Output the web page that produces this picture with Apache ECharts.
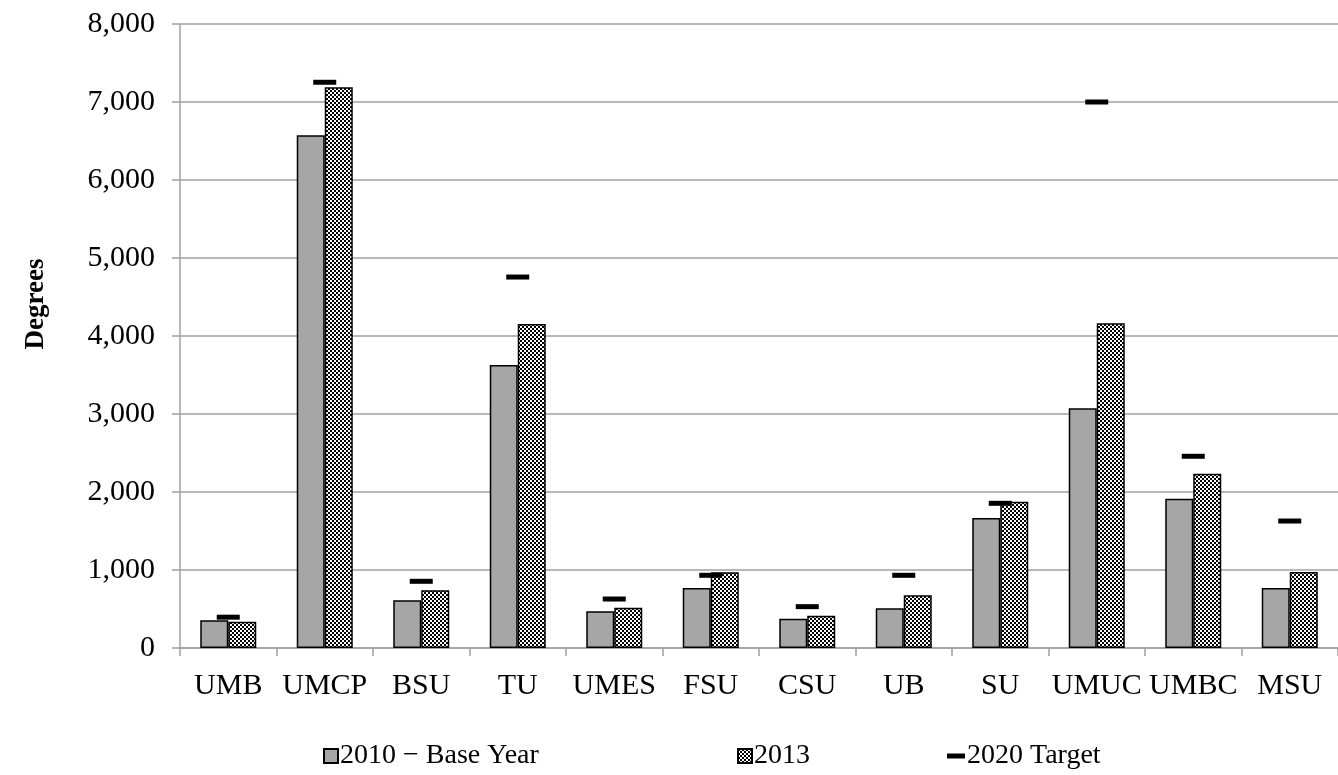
<!DOCTYPE html>
<html>
<head>
<meta charset="utf-8">
<script src="https://cdn.jsdelivr.net/npm/echarts@6/dist/echarts.min.js"></script>
<style>
html,body{margin:0;padding:0;background:#fff;}
#chart{width:1338px;height:775px;}
</style>
</head>
<body>
<div id="chart"></div>
<script>
const categories = ['UMB','UMCP','BSU','TU','UMES','FSU','CSU','UB','SU','UMUC','UMBC','MSU'];
const base2010 = [355, 6573, 611, 3628, 470, 769, 376, 509, 1667, 3073, 1914, 769];
const values2013 = [335, 7188, 740, 4154, 517, 970, 414, 676, 1876, 4163, 2235, 974];
const target2020 = [395, 7253, 855, 4756, 628, 932, 530, 932, 1855, 7000, 2458, 1628];
const yTicks = [0, 1000, 2000, 3000, 4000, 5000, 6000, 7000, 8000];

const tile = document.createElement('canvas');
tile.width = 4; tile.height = 4;
const tc = tile.getContext('2d');
tc.fillStyle = '#fff'; tc.fillRect(0,0,4,4);
tc.fillStyle = '#000';
tc.fillRect(0,0,2,2); tc.fillRect(2,2,2,2);

const font = 'Liberation Serif';
const chart = echarts.init(document.getElementById('chart'), null, {renderer:'canvas'});
chart.setOption({
  animation: false,
  backgroundColor: '#fff',
  textStyle: {fontFamily: font, color: '#000'},
  grid: {left: 180, top: 24, width: 1168, height: 624, containLabel: false},
  xAxis: {
    type: 'category',
    data: categories,
    axisLine: {lineStyle: {color: '#a0a0a0', width: 1.5}},
    axisTick: {show: true, length: 8, lineStyle: {color: '#a0a0a0', width: 1.5}},
    axisLabel: {fontFamily: font, fontSize: 30, color: '#000', margin: 23, interval: 0}
  },
  yAxis: {
    type: 'value',
    min: yTicks[0], max: yTicks[yTicks.length-1], interval: 1000,
    axisLine: {show: true, lineStyle: {color: '#a0a0a0', width: 1.5}},
    axisTick: {show: true, length: 8, lineStyle: {color: '#a0a0a0', width: 1.5}},
    splitLine: {lineStyle: {color: '#a0a0a0', width: 1.5}},
    axisLabel: {fontFamily: font, fontSize: 30, color: '#000', margin: 25,
      formatter: v => v.toLocaleString('en-US')}
  },
  graphic: [{
    type: 'text', x: 36, y: 304, rotation: Math.PI/2,
    style: {text: 'Degrees', font: 'bold 27px "Liberation Serif"', fill: '#000', align: 'center', verticalAlign: 'middle'}
  }],
  legend: [
    {data: ['2010 − Base Year'], left: 318, top: 737, icon: 'rect', itemWidth: 14, itemHeight: 14, itemGap: 0,
      textStyle: {fontFamily: font, fontSize: 28, color: '#000', padding: [0,0,0,-3]}},
    {data: ['2013'], left: 732, top: 737, icon: 'rect', itemWidth: 14, itemHeight: 14,
      textStyle: {fontFamily: font, fontSize: 28, color: '#000', padding: [0,0,0,-3]}},
    {data: ['2020 Target'], left: 942, top: 737, icon: 'rect', itemWidth: 18, itemHeight: 5,
      textStyle: {fontFamily: font, fontSize: 28, color: '#000', padding: [0,0,0,-3]}}
  ],
  series: [
    {name: '2010 − Base Year', type: 'bar', data: base2010, barWidth: 28, barGap: '0%',
      itemStyle: {color: '#a6a6a6', borderColor: '#000', borderWidth: 1.5}},
    {name: '2013', type: 'bar', data: values2013, barWidth: 28, barGap: '0%',
      itemStyle: {color: {image: tile, repeat: 'repeat'}, borderColor: '#000', borderWidth: 1.5}},
    {name: '2020 Target', type: 'scatter', data: target2020, symbol: 'rect', symbolSize: [23, 5],
      itemStyle: {color: '#000', opacity: 1}, z: 5}
  ]
});
</script>
</body>
</html>
